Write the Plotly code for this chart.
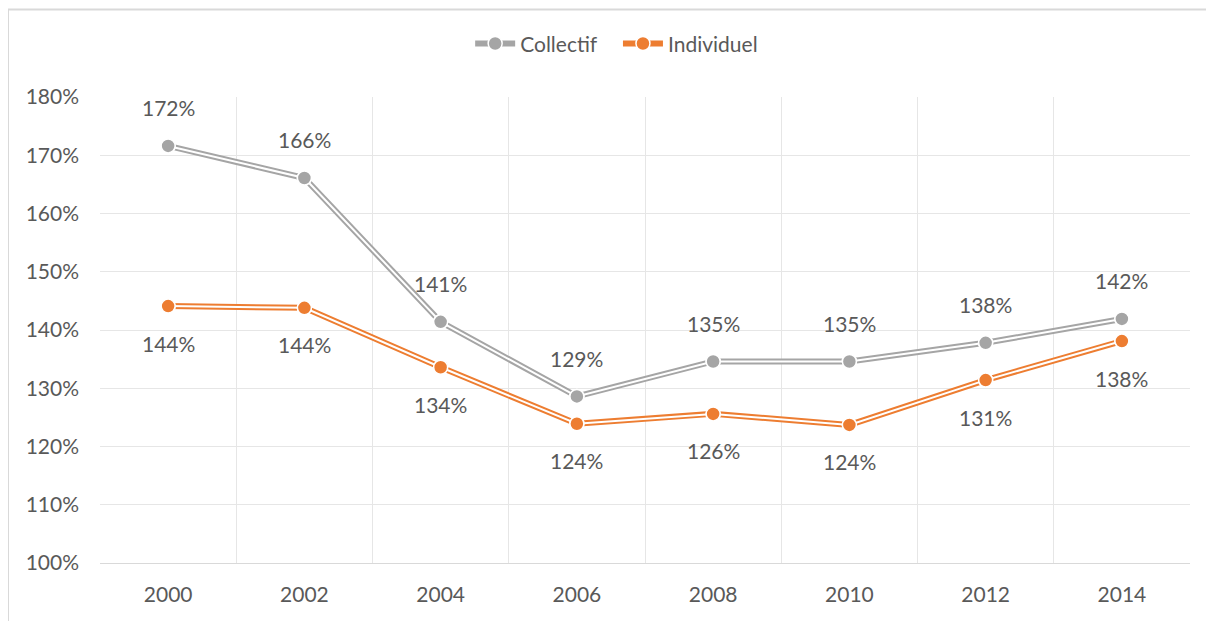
import plotly.graph_objects as go

years = [2000, 2002, 2004, 2006, 2008, 2010, 2012, 2014]
collectif = [171.6, 166.1, 141.4, 128.6, 134.6, 134.6, 137.8, 141.9]
individuel = [144.1, 143.8, 133.6, 123.9, 125.6, 123.7, 131.4, 138.1]
boundaries = [1999, 2001, 2003, 2005, 2007, 2009, 2011, 2013, 2015]

GRAY = "#A5A5A5"
ORANGE = "#ED7D31"
TXT = "#595959"
FONT = "Lato"

fig = go.Figure()

series = [("Collectif   ", collectif, GRAY, 38), ("Individuel", individuel, ORANGE, -37)]

for name, vals, col, shift in series:
    # thick coloured line (shown in legend)
    fig.add_trace(go.Scatter(
        x=years, y=vals, name=name, mode="lines+markers",
        line=dict(color=col, width=6),
        marker=dict(size=14, color=col, line=dict(color="white", width=1.5)),
        legendgroup=name,
    ))
    # thin white line on top -> double-line look
    fig.add_trace(go.Scatter(
        x=years, y=vals, mode="lines", showlegend=False, hoverinfo="skip",
        line=dict(color="white", width=2), legendgroup=name,
    ))
    # markers on top
    fig.add_trace(go.Scatter(
        x=years, y=vals, mode="markers", showlegend=False,
        marker=dict(size=14, color=col, line=dict(color="white", width=1.5)),
        legendgroup=name,
    ))
    for x, v in zip(years, vals):
        fig.add_annotation(x=x, y=v, text=f"{v:.0f}%", showarrow=False,
                           yshift=shift, font=dict(size=21, color=TXT, family=FONT))

fig.update_layout(
    width=1206, height=613,
    paper_bgcolor="white", plot_bgcolor="white",
    margin=dict(l=92, r=24, t=89, b=58),
    font=dict(family=FONT, size=21, color=TXT),
    legend=dict(orientation="h", x=0.474, xanchor="center", y=1.114, yanchor="middle",
                font=dict(size=21, color=TXT), itemwidth=40),
    xaxis=dict(range=[1999, 2015], tickvals=years, showgrid=False, ticks="",
               showline=True, linecolor="#D9D9D9", linewidth=1,
               minor=dict(tickvals=boundaries, showgrid=True, gridcolor="#E6E6E6", gridwidth=1),
               tickfont=dict(size=21, color=TXT), ticklabelstandoff=13),
    yaxis=dict(range=[100, 180], dtick=10, ticksuffix="%", showgrid=True,
               gridcolor="#E6E6E6", gridwidth=1, zeroline=False, ticks="",
               tickfont=dict(size=21, color=TXT), ticklabelstandoff=20),
    shapes=[dict(type="rect", xref="paper", yref="paper",
                 x0=-0.0844, x1=1.2, y0=-0.3, y1=1.188,
                 line=dict(color="#D9D9D9", width=2), layer="below")],
)

fig.write_html("out.html")
